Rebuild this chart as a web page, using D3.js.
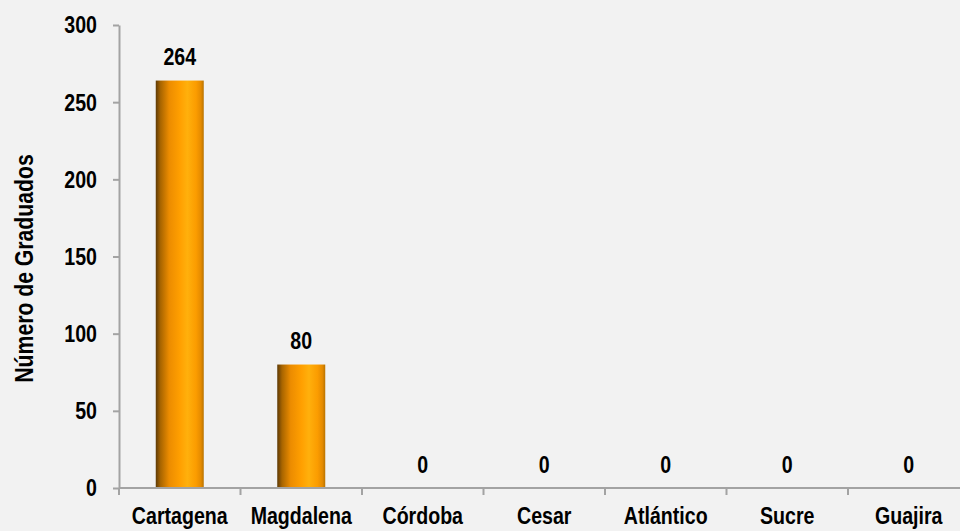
<!DOCTYPE html>
<html>
<head>
<meta charset="utf-8">
<script src="https://cdn.jsdelivr.net/npm/d3@7"></script>
<style>
  html, body { margin: 0; padding: 0; background: #f2f2f2; }
  svg { display: block; }
  text {
    font-family: "Liberation Sans", Arial, sans-serif;
    font-weight: bold;
    fill: #000;
  }
</style>
</head>
<body>
<div id="chart"></div>
<script>
'use strict';

// ── Data ──────────────────────────────────────────────────
const categories = ['Cartagena', 'Magdalena', 'Córdoba', 'Cesar', 'Atlántico', 'Sucre', 'Guajira'];
const values     = [264, 80, 0, 0, 0, 0, 0];
const yTicks     = [0, 50, 100, 150, 200, 250, 300];
const yTitle     = 'Número de Graduados';

const rows = categories.map((name, i) => ({ name, value: values[i] }));

// ── Size / margins ────────────────────────────────────────
// The plot runs past the right edge of the window (last band is clipped)
const totalW = 960, totalH = 531;
const margin = { top: 25, left: 119, bottom: 43 };
const plotRight = 969.5;
const H = totalH - margin.top - margin.bottom;

// No narrow font installed: squeeze Liberation Sans Bold horizontally
const NARROW = 0.8;
const FS = 24.5;

const svg = d3.select('#chart').append('svg')
    .attr('width', totalW)
    .attr('height', totalH);

// Bar gradient: dark left edge, bright band right of centre
const defs = svg.append('defs');
const grad = defs.append('linearGradient')
    .attr('id', 'barGrad')
    .attr('x1', '0%').attr('x2', '100%')
    .attr('y1', '0%').attr('y2', '0%');
[
    ['0%',   '#5e3a06'],
    ['10%',  '#a86500'],
    ['28%',  '#ec8c00'],
    ['50%',  '#ff9f00'],
    ['66%',  '#ffb00c'],
    ['84%',  '#fb9c00'],
    ['94%',  '#e58b00'],
    ['100%', '#b97300']
].forEach(([o, c]) => grad.append('stop').attr('offset', o).attr('stop-color', c));

// ── Scales ────────────────────────────────────────────────
const x = d3.scaleBand()
    .domain(categories)
    .range([margin.left, plotRight])
    .padding(0);

const y = d3.scaleLinear()
    .domain([0, 300])
    .range([margin.top + H, margin.top]);

const barW = x.bandwidth() * 0.395;
const axisColor = '#a3a3a3';

// ── Bars ──────────────────────────────────────────────────
svg.selectAll('rect.bar')
    .data(rows)
    .join('rect')
    .attr('class', 'bar')
    .attr('x', d => x(d.name) + (x.bandwidth() - barW) / 2)
    .attr('y', d => y(d.value))
    .attr('width', barW)
    .attr('height', d => y(0) - y(d.value))
    .attr('fill', 'url(#barGrad)');

// ── Y axis ────────────────────────────────────────────────
const yAxis = svg.append('g')
    .attr('transform', `translate(${margin.left},0)`)
    .call(d3.axisLeft(y).tickValues(yTicks).tickSize(6).tickPadding(16).tickSizeOuter(0));
yAxis.select('.domain').attr('stroke', axisColor).attr('stroke-width', 2);
yAxis.selectAll('.tick line').attr('stroke', axisColor).attr('stroke-width', 2);
yAxis.selectAll('.tick text')
    .attr('font-size', FS)
    .attr('font-family', null)
    .attr('x', -22 / NARROW)
    .attr('transform', `scale(${NARROW},1)`);

// ── X axis (ticks sit on band boundaries) ─────────────────
const xAxis = svg.append('g');
xAxis.append('line')
    .attr('x1', margin.left).attr('x2', plotRight)
    .attr('y1', y(0)).attr('y2', y(0))
    .attr('stroke', axisColor).attr('stroke-width', 2);

xAxis.selectAll('line.xtick')
    .data(categories)
    .join('line')
    .attr('class', 'xtick')
    .attr('x1', d => x(d)).attr('x2', d => x(d))
    .attr('y1', y(0)).attr('y2', y(0) + 7)
    .attr('stroke', axisColor).attr('stroke-width', 2);

xAxis.selectAll('text.xlabel')
    .data(categories)
    .join('text')
    .attr('class', 'xlabel')
    .attr('transform', d => `translate(${x(d) + x.bandwidth() / 2},${y(0) + 36}) scale(${NARROW},1)`)
    .attr('text-anchor', 'middle')
    .attr('font-size', FS)
    .text(d => d);

// ── Value labels ──────────────────────────────────────────
svg.selectAll('text.val')
    .data(rows)
    .join('text')
    .attr('class', 'val')
    .attr('transform', d => `translate(${x(d.name) + x.bandwidth() / 2},${y(d.value) - 15.5}) scale(${NARROW},1)`)
    .attr('text-anchor', 'middle')
    .attr('font-size', FS)
    .text(d => d.value);

// ── Y title ───────────────────────────────────────────────
svg.append('text')
    .attr('transform', `translate(33,${margin.top + H / 2 + 12}) rotate(-90) scale(${NARROW},1)`)
    .attr('text-anchor', 'middle')
    .attr('font-size', 26.5)
    .text(yTitle);
</script>
</body>
</html>
